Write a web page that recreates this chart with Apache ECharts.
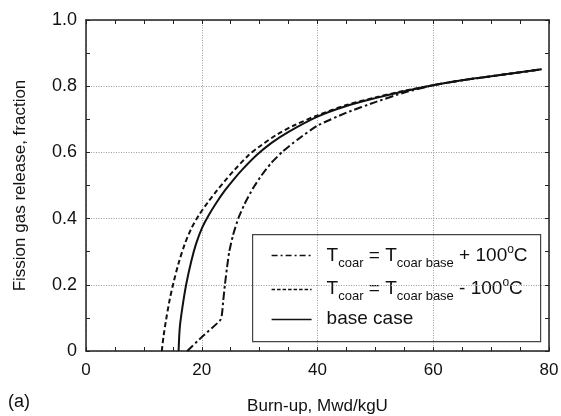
<!DOCTYPE html>
<html>
<head>
<meta charset="utf-8">
<script src="https://cdn.jsdelivr.net/npm/echarts@6/dist/echarts.min.js"></script>
<style>html,body{margin:0;padding:0;background:#fff;}#c{width:561px;height:416px;}</style>
</head>
<body>
<div id="c"></div>
<script>
// ---- data ----
const seriesNames = ['T_coar = T_coar base + 100°C', 'T_coar = T_coar base - 100°C', 'base case'];

const plusX  = [17.5, 20.0, 23.3, 23.7, 24.0, 24.35, 24.75, 25.4, 26.3, 27.4, 28.8, 30.3, 32.0, 34.0, 36.5, 40, 45, 50, 55, 60, 65, 70, 75, 78.7];
const plusY  = [0, 0.042, 0.096, 0.15, 0.2, 0.25, 0.3, 0.35, 0.4, 0.444, 0.49, 0.53, 0.568, 0.603, 0.638, 0.681, 0.72, 0.752, 0.781, 0.803, 0.818, 0.830, 0.842, 0.851];

const minusX = [13.1, 13.4, 13.8, 14.4, 15.1, 16.0, 17.0, 18.2, 19.5, 21.0, 22.5, 24.0, 25.5, 28.0, 30, 33, 36, 40, 45, 50, 55, 60, 65, 70, 75, 78.7];
const minusY = [0, 0.045, 0.09, 0.15, 0.205, 0.265, 0.32, 0.37, 0.41, 0.448, 0.482, 0.514, 0.544, 0.59, 0.618, 0.654, 0.682, 0.712, 0.743, 0.766, 0.786, 0.803, 0.818, 0.830, 0.842, 0.851];

const baseX  = [16.0, 16.2, 16.6, 17.3, 18.2, 19.0, 20.0, 21.2, 22.5, 24.0, 25.5, 27.0, 29.5, 32, 35, 40, 45, 50, 55, 60, 65, 70, 75, 78.7];
const baseY  = [0, 0.07, 0.125, 0.2, 0.272, 0.323, 0.37, 0.41, 0.447, 0.485, 0.518, 0.548, 0.592, 0.628, 0.662, 0.708, 0.740, 0.764, 0.785, 0.803, 0.818, 0.830, 0.842, 0.851];

const xTicks = [0, 20, 40, 60, 80];
const xTickLabels = ['0', '20', '40', '60', '80'];
const yTicks = [0, 0.2, 0.4, 0.6, 0.8, 1.0];
const yTickLabels = ['0', '0.2', '0.4', '0.6', '0.8', '1.0'];

const zip = (xs, ys) => xs.map((x, i) => [x, ys[i]]);

const FONT = '"Liberation Sans", Arial, Helvetica, sans-serif';
const AX = '#222';

function lookup(ticks, labels, v) {
  for (let i = 0; i < ticks.length; i++) if (Math.abs(ticks[i] - v) < 1e-6) return labels[i];
  return '';
}

const commonAxis = {
  axisLine: { show: true, onZero: false, lineStyle: { color: AX, width: 1.5 } },
  axisTick: { show: true, inside: true, length: 4, lineStyle: { color: AX, width: 1 } },
  minorTick: { show: true, length: 4, lineStyle: { color: AX, width: 1 } },
};

const chart = echarts.init(document.getElementById('c'), null, { renderer: 'canvas' });

const subRich = {
  T: { fontSize: 19, fontFamily: FONT, color: '#111' },
  sub: { fontSize: 13, fontFamily: FONT, color: '#111', padding: [15, 0, 0, 0] },
  sup: { fontSize: 12, fontFamily: FONT, color: '#111', padding: [0, 0, 11, 0] }
};

const option = {
  animation: false,
  backgroundColor: '#fff',
  grid: { left: 86, right: 12, top: 20, bottom: 65, containLabel: false, outerBoundsMode: 'none' },
  xAxis: [
    Object.assign({}, commonAxis, {
      type: 'value', min: 0, max: 80, interval: 20, position: 'bottom',
      minorTick: Object.assign({}, commonAxis.minorTick, { splitNumber: 4 }),
      axisLabel: { color: '#111', fontSize: 17, fontFamily: FONT, margin: 11,
        formatter: v => lookup(xTicks, xTickLabels, v) },
      splitLine: { show: true, lineStyle: { color: '#9a9a9a', width: 1, type: [1, 1.5] } },
      name: 'Burn-up, Mwd/kgU', nameLocation: 'middle', nameGap: 47,
      nameTextStyle: { color: '#111', fontSize: 17, fontFamily: FONT }
    }),
    Object.assign({}, commonAxis, {
      type: 'value', min: 0, max: 80, interval: 20, position: 'top',
      minorTick: Object.assign({}, commonAxis.minorTick, { splitNumber: 4 }),
      axisLabel: { show: false }, splitLine: { show: false }
    })
  ],
  yAxis: [
    Object.assign({}, commonAxis, {
      type: 'value', min: 0, max: 1, interval: 0.2, position: 'left',
      minorTick: Object.assign({}, commonAxis.minorTick, { splitNumber: 2 }),
      axisLabel: { color: '#111', fontSize: 18, fontFamily: FONT, margin: 9,
        formatter: v => lookup(yTicks, yTickLabels, v) },
      splitLine: { show: true, lineStyle: { color: '#9a9a9a', width: 1, type: [1, 1.5] } },
      name: 'Fission gas release, fraction', nameLocation: 'middle', nameGap: 57,
      nameTextStyle: { color: '#111', fontSize: 17, fontFamily: FONT }
    }),
    Object.assign({}, commonAxis, {
      type: 'value', min: 0, max: 1, interval: 0.2, position: 'right',
      minorTick: Object.assign({}, commonAxis.minorTick, { splitNumber: 2 }),
      axisLabel: { show: false }, splitLine: { show: false }
    })
  ],
  series: [
    { name: seriesNames[0], type: 'line', data: zip(plusX, plusY), showSymbol: false, smooth: 0.15,
      lineStyle: { color: '#111', width: 2, type: [8, 3, 2.5, 3] }, z: 3 },
    { name: seriesNames[1], type: 'line', data: zip(minusX, minusY), showSymbol: false, smooth: 0.3,
      lineStyle: { color: '#111', width: 2, type: [5, 3] }, z: 3 },
    { name: seriesNames[2], type: 'line', data: zip(baseX, baseY), showSymbol: false, smooth: 0.3,
      lineStyle: { color: '#111', width: 2, type: 'solid' }, z: 4 }
  ],
  graphic: [
    { type: 'text', left: 8, top: 393, style: { text: '(a)', fill: '#111', font: '18px ' + FONT } },
    { type: 'group', left: 252, top: 234, z: 100, children: [
      { type: 'rect', shape: { x: 0, y: 0, width: 288, height: 107 },
        style: { fill: '#fff', stroke: '#444', lineWidth: 1.2 } },
      { type: 'line', shape: { x1: 19, y1: 21, x2: 59, y2: 21 },
        style: { stroke: '#111', lineWidth: 1.5, lineDash: [6, 3, 2, 3] } },
      { type: 'line', shape: { x1: 19, y1: 55, x2: 59, y2: 55 },
        style: { stroke: '#111', lineWidth: 1.5, lineDash: [3.5, 2] } },
      { type: 'line', shape: { x1: 19, y1: 85, x2: 59, y2: 85 },
        style: { stroke: '#111', lineWidth: 1.5 } },
      { type: 'text', x: 74, y: 21, style: {
          text: '{T|T}{sub|coar}{T| = T}{sub|coar base}{T| + 100}{sup|o}{T|C}',
          verticalAlign: 'middle', textVerticalAlign: 'middle', align: 'left', fill: '#111',
          rich: subRich } },
      { type: 'text', x: 74, y: 54, style: {
          text: '{T|T}{sub|coar}{T| = T}{sub|coar base}{T| - 100}{sup|o}{T|C}',
          verticalAlign: 'middle', textVerticalAlign: 'middle', align: 'left', fill: '#111',
          rich: subRich } },
      { type: 'text', x: 74, y: 84, style: {
          text: seriesNames[2], verticalAlign: 'middle', textVerticalAlign: 'middle', align: 'left',
          fill: '#111', font: '19px ' + FONT } }
    ] }
  ]
};
chart.setOption(option);
</script>
</body>
</html>
